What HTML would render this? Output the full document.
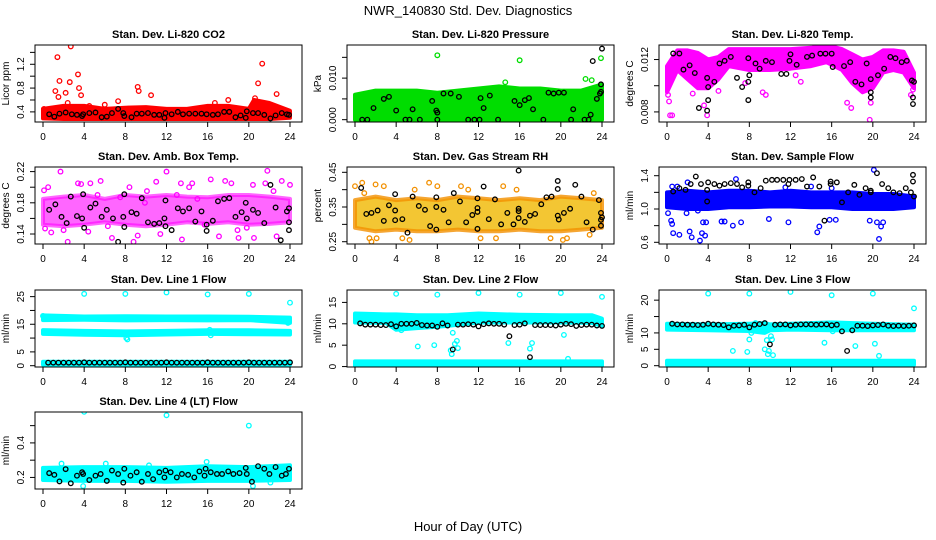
<!DOCTYPE html>
<html><head><meta charset="utf-8"><style>
html,body{margin:0;padding:0;background:#fff;}
svg{display:block;font-family:"Liberation Sans",sans-serif;}
</style></head><body>
<svg id="chart" width="936" height="540" viewBox="0 0 936 540">
<rect width="936" height="540" fill="#fff"/>
<text x="468" y="15" text-anchor="middle" font-size="13">NWR_140830  Std. Dev. Diagnostics</text>
<text x="468" y="531" text-anchor="middle" font-size="13">Hour of Day (UTC)</text>
</svg>
<script>
// ---------- data ----------
const xTicks=[0,4,8,12,16,20,24];
// P1 CO2
const p1BandH=[0,2,4,6,8,10,12,14,16,18,20,20.5,22,24];
const p1BandLo=[0.29,0.28,0.28,0.28,0.28,0.28,0.28,0.28,0.28,0.28,0.28,0.28,0.28,0.3];
const p1BandHi=[0.45,0.5,0.5,0.45,0.47,0.48,0.45,0.45,0.5,0.5,0.45,0.6,0.55,0.42];
const p1OutX=[1.2,1.4,1.6,1.5,2.2,2.4,2.6,2.7,3.4,3.5,3.7,7.3,9.2,9.3,10.5,20.9,21.3,20.6,22.7,6.0,16.7,18.0,0.1,4.5];
const p1OutY=[0.75,1.32,0.92,0.65,0.72,0.55,0.9,1.5,1.03,0.8,0.68,0.58,0.82,0.75,0.68,0.88,1.21,0.63,0.7,0.52,0.55,0.6,0.45,0.5];
const p1BlkX=[0.6,1.1,1.6,2.2,2.8,3.3,3.8,3.9,4.5,5.1,5.7,6.2,6.7,7.3,7.8,7.9,8.6,9.1,9.6,10.2,10.8,11.3,11.8,11.9,12.5,13.1,13.6,14.2,14.8,15.4,15.9,16.5,17.0,17.6,18.1,18.7,19.2,19.7,19.8,20.4,20.9,21.5,22.1,22.6,23.2,23.7,23.9];
const p1BlkY=[0.36,0.32,0.37,0.39,0.36,0.35,0.33,0.36,0.38,0.39,0.31,0.32,0.38,0.45,0.38,0.33,0.31,0.37,0.37,0.38,0.35,0.35,0.3,0.38,0.36,0.4,0.36,0.37,0.37,0.37,0.36,0.35,0.36,0.4,0.4,0.31,0.34,0.3,0.41,0.38,0.38,0.35,0.29,0.34,0.38,0.36,0.35];
// P2 pressure
const p2BandH=[0,2,4,6,8,10,12,14,16,18,20,22,24];
const p2BandLo=[0,0,0,0,0,0,0,0,0,0,0,0,0];
const p2BandHi=[0.006,0.007,0.007,0.007,0.0065,0.007,0.0075,0.008,0.0075,0.0075,0.007,0.007,0.0085];
const p2OutX=[8.0,16.0,23.9,22.4,23.0,14.6,0.1,19.5];
const p2OutY=[0.0155,0.0143,0.0148,0.0098,0.0095,0.009,0.0055,0.0005];
const p2BlkX=[0.7,1.2,3.3,1.8,2.8,4.9,5.3,4.0,5.6,6.3,7.5,8.0,7.9,8.0,8.6,9.3,10.1,11.0,11.6,12.1,13.1,12.2,12.5,13.9,15.5,16.0,16.5,16.9,17.3,18.3,18.8,19.3,19.8,20.3,21.0,21.2,22.3,22.7,22.9,23.1,23.5,23.8,23.9,23.9,24.0];
const p2BlkY=[0,0,0.0055,0.0028,0.005,0,0,0.0022,0.0025,0,0.0045,0.0017,0.0022,0,0.0063,0.0063,0.0055,0,0,0,0.0058,0.0052,0.0028,0,0.0045,0.0035,0.0047,0.0052,0.0025,0,0.0065,0.0063,0.0065,0.0065,0,0.0025,0,0,0.0012,0.0141,0.005,0.0063,0.0067,0.0085,0.0171];
// P3 Li-820 temp
const p3BandH=[0,1,2,3,4,5,6,8,10,12,14,15.5,17,18,19,20,21,22,23,24];
const p3BandLo=[0.0095,0.0112,0.0105,0.0098,0.0098,0.0105,0.0115,0.0112,0.0112,0.0113,0.0115,0.0118,0.0112,0.0102,0.0095,0.0098,0.011,0.0112,0.011,0.0098];
const p3BandHi=[0.0115,0.0127,0.0127,0.0125,0.012,0.0122,0.0128,0.0128,0.0128,0.0128,0.0129,0.0131,0.0128,0.0124,0.012,0.0122,0.0127,0.0127,0.0126,0.011];
const p3OutX=[0.3,0.5,0.2,0.1,3.9,3.6,9.3,9.6,7.6,13.0,17.5,17.9,19.7,19.8,23.7,23.9,12.5,2.5,5.0];
const p3OutY=[0.00774,0.00774,0.0088,0.0093,0.00774,0.0085,0.0095,0.0093,0.0102,0.0103,0.0087,0.0083,0.0074,0.0087,0.0093,0.0097,0.0108,0.0094,0.0096];
const p3BlkX=[0.6,1.2,1.6,2.2,2.7,3.1,3.9,3.9,4.0,4.0,4.6,5.1,5.6,6.2,6.8,7.3,7.9,7.9,8.0,7.9,8.6,9.0,9.6,10.2,11.1,11.6,11.9,12.0,12.6,13.6,14.1,14.9,15.4,16.0,16.1,17.2,17.8,18.3,18.9,19.4,19.8,19.8,19.8,20.5,21.1,21.7,22.2,22.8,23.3,23.8,23.9,23.9,24.0];
const p3BlkY=[0.01246,0.01246,0.01123,0.01156,0.01097,0.0083,0.0081,0.0106,0.0099,0.0089,0.0103,0.0117,0.0119,0.0122,0.0106,0.0099,0.0089,0.0103,0.0108,0.0121,0.0117,0.0113,0.0119,0.0118,0.0109,0.0109,0.0119,0.0124,0.0116,0.0122,0.0123,0.01245,0.01245,0.01245,0.01143,0.0115,0.0118,0.0103,0.0101,0.0117,0.0105,0.0095,0.0091,0.0108,0.0113,0.0122,0.0121,0.0118,0.0119,0.0104,0.0091,0.0086,0.0103];
// P4 amb box temp
const p4BandH=[0,2,4,6,8,10,12,14,16,18,20,22,24];
const p4BandLo=[0.152,0.15,0.152,0.155,0.152,0.15,0.152,0.155,0.153,0.155,0.152,0.153,0.155];
const p4BandHi=[0.185,0.188,0.19,0.185,0.19,0.188,0.19,0.188,0.187,0.19,0.19,0.188,0.185];
const p4OutX=[0.1,0.2,0.5,0.8,1.7,2.0,2.4,3.4,3.7,4.4,4.6,5.6,6.7,7.5,8.4,8.8,9.2,10.1,11.0,12.0,13.4,13.5,14.2,14.5,15.7,16.3,17.7,18.3,19.0,19.8,20.4,20.5,21.6,21.8,22.7,23.2,24.0,17.1,5.3,9.9,13.0,15.0,6.3,11.4,18.9,22.4];
const p4OutY=[0.196,0.147,0.2,0.142,0.22,0.145,0.13,0.205,0.204,0.143,0.205,0.208,0.135,0.187,0.2,0.13,0.138,0.195,0.207,0.22,0.205,0.133,0.2,0.205,0.152,0.21,0.208,0.205,0.135,0.148,0.203,0.135,0.205,0.221,0.137,0.208,0.203,0.137,0.19,0.18,0.19,0.185,0.15,0.14,0.145,0.195];
const p4BlkX=[0.6,1.2,1.8,2.3,2.7,3.3,3.8,3.9,4.0,4.6,5.1,5.7,6.2,6.8,7.3,7.8,7.9,7.9,8.6,9.1,9.6,10.2,10.8,11.3,11.8,11.9,11.9,12.5,13.1,13.6,14.2,14.8,15.4,15.9,15.9,16.5,17.0,17.6,18.1,18.7,19.3,19.7,19.8,20.4,20.9,21.5,22.1,22.6,23.1,23.7,23.9,23.9,23.9];
const p4BlkY=[0.171,0.178,0.162,0.154,0.188,0.163,0.16,0.191,0.148,0.174,0.179,0.162,0.171,0.16,0.13,0.162,0.191,0.149,0.168,0.166,0.186,0.155,0.153,0.154,0.16,0.15,0.183,0.145,0.173,0.169,0.173,0.156,0.169,0.152,0.144,0.157,0.182,0.185,0.186,0.162,0.168,0.18,0.16,0.171,0.167,0.154,0.203,0.174,0.132,0.169,0.173,0.145,0.155];
// P5 gas stream RH
const p5BandH=[0,2,4,6,8,10,12,14,16,18,20,22,24];
const p5BandLo=[0.29,0.28,0.285,0.28,0.28,0.285,0.28,0.28,0.285,0.28,0.28,0.285,0.29];
const p5BandHi=[0.37,0.38,0.37,0.375,0.37,0.38,0.375,0.37,0.375,0.37,0.38,0.375,0.37];
const p5OutX=[0,0.7,2.0,2.8,1.4,1.6,2.1,4.6,5.3,5.8,7.2,8.0,10.3,12.2,13.7,14.4,15.7,19.0,20.2,20.6,22.8,23.2,0.9,11.0];
const p5OutY=[0.41,0.42,0.415,0.41,0.26,0.25,0.26,0.26,0.255,0.4,0.42,0.41,0.41,0.26,0.26,0.41,0.4,0.26,0.255,0.26,0.27,0.39,0.39,0.4];
const p5BlkX=[0.6,1.1,1.6,2.2,2.8,3.3,3.9,3.9,3.9,4.6,5.1,5.6,6.2,6.8,7.3,7.9,7.9,7.9,8.6,9.1,9.6,10.2,10.8,11.4,11.9,11.9,11.9,11.9,12.5,13.0,13.6,14.2,14.8,15.4,15.9,15.9,15.9,15.9,16.5,17.0,17.5,18.1,18.6,19.1,19.7,19.7,19.7,19.8,20.3,20.9,21.4,22.0,22.5,23.1,23.7,23.9,23.9,23.9,24.0];
const p5BlkY=[0.405,0.33,0.333,0.34,0.31,0.355,0.387,0.34,0.312,0.315,0.276,0.38,0.353,0.342,0.295,0.378,0.35,0.285,0.342,0.306,0.39,0.366,0.306,0.327,0.375,0.336,0.347,0.287,0.409,0.315,0.372,0.3,0.333,0.3,0.318,0.345,0.338,0.455,0.307,0.325,0.33,0.358,0.378,0.38,0.425,0.402,0.325,0.314,0.333,0.345,0.414,0.38,0.306,0.285,0.37,0.333,0.313,0.296,0.32];
// P6 sample flow
const p6BandH=[0,2,4,6,8,10,12,14,16,18,20,22,24];
const p6BandLo=[1.02,1.0,1.0,1.02,1.02,1.03,1.03,1.02,1.02,1.0,1.0,1.0,1.02];
const p6BandHi=[1.2,1.22,1.2,1.22,1.22,1.2,1.22,1.2,1.2,1.2,1.18,1.18,1.15];
const p6OutX=[0.1,0.4,0.5,0.6,1.2,2.2,2.4,3.2,3.4,3.7,3.5,3.8,5.3,5.6,6.4,7.2,9.9,11.8,14.6,14.8,15.8,16.4,19.7,20.4,20.6,20.8,21.0,20.1,0.5,1.0,2.0,6.7,11.5,14.0,16.0,1.9,3.0];
const p6OutY=[0.95,0.86,0.82,0.71,0.69,0.73,0.66,0.62,0.71,0.68,0.84,0.84,0.85,0.85,0.8,0.84,0.88,0.84,0.72,0.79,0.87,0.87,0.86,0.84,0.64,0.79,0.84,1.47,1.27,1.27,1.32,1.36,1.26,1.27,1.25,0.95,0.98];
const p6BlkX=[0.6,1.2,1.8,2.3,2.8,3.3,3.9,3.9,4.0,4.6,5.1,5.6,6.2,6.8,7.3,7.9,7.9,8.5,9.1,9.6,10.2,10.7,11.3,11.8,11.9,12.5,13.1,13.6,14.2,14.8,15.3,15.9,15.9,16.5,17.0,17.6,18.2,18.7,19.3,19.8,19.8,20.4,20.9,21.5,22.0,22.6,23.2,23.7,23.9,23.9,24.0];
const p6BlkY=[1.21,1.25,1.23,1.3,1.39,1.3,1.23,1.09,1.32,1.3,1.28,1.3,1.31,1.3,1.26,1.28,1.32,1.2,1.25,1.34,1.35,1.35,1.35,1.3,1.35,1.35,1.36,1.27,1.38,1.27,0.86,1.3,1.33,1.32,1.08,1.2,1.29,1.17,1.25,1.2,1.22,1.43,1.3,1.25,1.2,1.19,1.25,1.2,1.33,1.41,1.15];
// shared half-hour positions for line-flow black markers
const flowBlkX=[0.5,1,1.5,2,2.5,3,3.5,4,4.5,5,5.5,6,6.5,7,7.5,8,8.5,9,9.5,10,10.5,11,11.5,12,12.5,13,13.5,14,14.5,15,15.5,16,16.5,17,17.5,18,18.5,19,19.5,20,20.5,21,21.5,22,22.5,23,23.5,24];
// P7 line 1
const p7BandH=[0,4,8,12,16,20,24];
const p7Band1Lo=[16.5,16.6,16.4,16.5,16.4,16.5,15.5];
const p7Band1Hi=[18.2,17.8,17.9,17.8,17.8,17.7,17.4];
const p7Band2Lo=[11.5,11.2,11.0,11.3,11.5,11.4,11.3];
const p7Band2Hi=[12.9,12.6,12.4,12.6,12.8,12.8,12.6];
const p7Band3Lo=[0.4,0.4,0.4,0.4,0.4,0.4,0.4];
const p7Band3Hi=[1.4,1.4,1.4,1.4,1.4,1.4,1.4];
const p7OutX=[4,8,12,16,20,24,8.2,8.1,16.3,16.2,23.8,0];
const p7OutY=[26,26,26.5,25.8,26,22.8,9.5,10,11,13,15.5,18];
const p7BlkY=[1.1,1.1,1.1,1.1,1.1,1.1,1.1,1.2,1.1,1.1,1.1,1.1,1.1,1.1,1.1,1.2,1.1,1.1,1.1,1.1,1.1,1.1,1.1,1.2,1.1,1.1,1.1,1.1,1.1,1.1,1.1,1.2,1.1,1.1,1.1,1.1,1.1,1.1,1.1,1.2,1.1,1.1,1.1,1.1,1.1,1.1,1.1,1.2];
// P8 line 2
const p8BandH=[0,3,4,6,8,9,12,16,20,23,24];
const p8Band1Lo=[10.3,10.2,8.6,9.0,9.3,9.5,10.3,10.3,10.3,10.2,9.5];
const p8Band1Hi=[12.4,12.2,12.2,12.0,12.0,12.0,12.4,12.1,12.0,12.0,11.2];
const p8Band2Lo=[0.2,0.2,0.2,0.2,0.2,0.2,0.2,0.2,0.2,0.2,0.2];
const p8Band2Hi=[1.2,1.2,1.2,1.2,1.2,1.2,1.2,1.2,1.2,1.2,1.2];
const p8OutX=[4,8,12,16,20,24,6.1,7.7,9.3,9.4,9.5,9.7,9.9,10.0,14.9,17.0,17.2,20.3,20.7,4.5];
const p8OutY=[17,16.8,17.2,16.8,17.2,16.3,4.7,5,3.8,2.9,7.9,5.3,6,4.3,5.5,4.2,5.5,7.4,1.8,8.5];
const p8BlkY=[10.1,9.8,9.8,9.8,9.7,9.7,9.9,9.4,10.0,10.0,10.0,10.2,9.7,9.6,9.6,9.3,10.1,9.6,4.0,9.8,9.8,9.9,9.8,9.4,9.9,10.1,10.0,10.0,9.8,7.1,9.7,9.8,10.1,2.2,9.7,9.7,9.7,9.7,9.6,9.8,10.0,9.9,9.5,9.7,9.8,9.8,9.6,9.5];
// P9 line 3
const p9BandH=[0,4,8,9.5,10,12,16,20,24];
const p9Band1Lo=[11.0,10.8,10.6,10.0,10.8,11.0,10.8,10.8,10.8];
const p9Band1Hi=[12.8,12.6,12.8,13.0,12.6,12.8,13.2,12.8,12.5];
const p9Band2Lo=[0.3,0.3,0.3,0.3,0.3,0.3,0.3,0.3,0.3];
const p9Band2Hi=[1.5,1.5,1.5,1.5,1.5,1.5,1.5,1.5,1.5];
const p9OutX=[4,8,12,16,20,24,6.4,7.8,8,8.2,8.6,9.5,9.8,9.9,10.1,10.3,15.3,16.1,18.3,20.2,20.6,10.2,9.7];
const p9OutY=[22,22,22.5,21.5,22,17.5,4.5,4.2,8,10,13,5,3.5,4.5,9,3.2,7,10.5,6,6.7,3,8,7.8];
const p9BlkY=[12.8,12.6,12.6,12.5,12.5,12.4,12.5,12.8,12.6,12.5,12.4,11.7,12.2,12.3,12.5,11.7,12.5,12.7,13.0,6.5,12.5,12.6,12.6,12.3,12.5,12.6,12.6,12.6,12.5,12.6,12.6,12.3,12.5,10.5,4.5,10.8,12.2,12.2,12.1,12.3,12.4,12.6,12.2,12.1,12.2,12.1,12.2,12.3];
// P10 line 4
const p10BandH=[0,4,8,12,16,20,24];
const p10BandLo=[0.185,0.18,0.18,0.175,0.18,0.18,0.185];
const p10BandHi=[0.255,0.26,0.26,0.255,0.265,0.26,0.27];
const p10OutX=[4,12,20,3.9,20.4,1.8,6.1,10.3,15.9,22.1];
const p10OutY=[0.58,0.56,0.5,0.15,0.15,0.28,0.28,0.27,0.29,0.17];
const p10BlkX=[0.6,1.1,1.6,2.2,2.7,3.3,3.8,3.9,4.5,5.1,5.6,6.2,6.7,7.3,7.8,7.9,8.5,9.1,9.6,10.2,10.7,11.3,11.8,11.9,12.4,13.0,13.5,14.1,14.7,15.2,15.7,15.8,16.3,16.9,17.4,18.0,18.5,19.1,19.7,19.8,20.3,20.9,21.5,22.0,22.6,23.2,23.6,23.9];
const p10BlkY=[0.225,0.215,0.177,0.248,0.166,0.21,0.23,0.22,0.185,0.21,0.22,0.18,0.24,0.22,0.17,0.25,0.21,0.23,0.175,0.22,0.19,0.23,0.2,0.24,0.23,0.2,0.22,0.215,0.2,0.235,0.21,0.25,0.23,0.22,0.22,0.235,0.22,0.225,0.255,0.22,0.175,0.265,0.25,0.22,0.26,0.21,0.22,0.25];

// ---------- layout ----------
const NS='http://www.w3.org/2000/svg';
const svg=document.getElementById('chart');
const colX=[0,312,624], rowTop=[45,167,290,412], boxH=77;
function el(tag,attrs,parent){const e=document.createElementNS(NS,tag);for(const k in attrs)e.setAttribute(k,attrs[k]);(parent||svg).appendChild(e);return e;}

const panels=[
 {title:'Stan. Dev. Li-820 CO2',c:0,r:0,ymin:0.23,ymax:1.524,ticks:[0.4,0.6,0.8,1.0,1.2,1.4],labels:['0.4','0.8','1.2'],ylab:'Licor ppm',color:'#ff0000',bands:[[p1BandH,p1BandLo,p1BandHi]],ox:p1OutX,oy:p1OutY,bx:p1BlkX,by:p1BlkY},
 {title:'Stan. Dev. Li-820 Pressure',c:1,r:0,ymin:-0.00056,ymax:0.01797,ticks:[0,0.005,0.01,0.015],labels:['0.000','0.010'],ylab:'kPa',color:'#00dd00',bands:[[p2BandH,p2BandLo,p2BandHi]],ox:p2OutX,oy:p2OutY,bx:p2BlkX,by:p2BlkY},
 {title:'Stan. Dev. Li-820 Temp.',c:2,r:0,ymin:0.00723,ymax:0.01311,ticks:[0.008,0.01,0.012],labels:['0.008','0.012'],ylab:'degrees C',color:'#ff00ff',bands:[[p3BandH,p3BandLo,p3BandHi]],ox:p3OutX,oy:p3OutY,bx:p3BlkX,by:p3BlkY},
 {title:'Stan. Dev. Amb. Box Temp.',c:0,r:1,ymin:0.1272,ymax:0.2259,ticks:[0.14,0.16,0.18,0.2,0.22],labels:['0.14','0.18','0.22'],ylab:'degrees C',color:'#ff00ff',bands:[[p4BandH,p4BandLo,p4BandHi]],ox:p4OutX,oy:p4OutY,bx:p4BlkX,by:p4BlkY,op:0.6},
 {title:'Stan. Dev. Gas Stream RH',c:1,r:1,ymin:0.2434,ymax:0.4653,ticks:[0.25,0.3,0.35,0.4,0.45],labels:['0.25','0.35','0.45'],ylab:'percent',color:'#f29000',bands:[[p5BandH,p5BandLo,p5BandHi]],ox:p5OutX,oy:p5OutY,bx:p5BlkX,by:p5BlkY,op:0.8,hatch:'#f0b800'},
 {title:'Stan. Dev. Sample Flow',c:2,r:1,ymin:0.5796,ymax:1.5045,ticks:[0.6,0.8,1.0,1.2,1.4],labels:['0.6','1.0','1.4'],ylab:'ml/min',color:'#0000ff',bands:[[p6BandH,p6BandLo,p6BandHi]],ox:p6OutX,oy:p6OutY,bx:p6BlkX,by:p6BlkY},
 {title:'Stan. Dev. Line 1 Flow',c:0,r:2,ymin:-0.47,ymax:27.4,ticks:[0,5,10,15,20,25],labels:['0','5','15','25'],ylab:'ml/min',color:'#00ffff',bands:[[p7BandH,p7Band1Lo,p7Band1Hi],[p7BandH,p7Band2Lo,p7Band2Hi],[p7BandH,p7Band3Lo,p7Band3Hi]],ox:p7OutX,oy:p7OutY,bx:flowBlkX,by:p7BlkY},
 {title:'Stan. Dev. Line 2 Flow',c:1,r:2,ymin:-0.1,ymax:17.9,ticks:[0,5,10,15],labels:['0','5','10','15'],ylab:'ml/min',color:'#00ffff',bands:[[p8BandH,p8Band1Lo,p8Band1Hi],[p8BandH,p8Band2Lo,p8Band2Hi]],ox:p8OutX,oy:p8OutY,bx:flowBlkX,by:p8BlkY},
 {title:'Stan. Dev. Line 3 Flow',c:2,r:2,ymin:-0.4,ymax:23.1,ticks:[0,5,10,15,20],labels:['0','5','10','20'],ylab:'ml/min',color:'#00ffff',bands:[[p9BandH,p9Band1Lo,p9Band1Hi],[p9BandH,p9Band2Lo,p9Band2Hi]],ox:p9OutX,oy:p9OutY,bx:flowBlkX,by:p9BlkY},
 {title:'Stan. Dev. Line 4 (LT) Flow',c:0,r:3,ymin:0.133,ymax:0.579,ticks:[0.2,0.3,0.4,0.5],labels:['0.2','0.4'],ylab:'ml/min',color:'#00ffff',bands:[[p10BandH,p10BandLo,p10BandHi]],ox:p10OutX,oy:p10OutY,bx:p10BlkX,by:p10BlkY}
];

panels.forEach(function(p,i){
  const L=colX[p.c]+35, R=colX[p.c]+302, T=rowTop[p.r], B=T+boxH;
  const xs=h=>colX[p.c]+43+h*(247/24);
  const ys=v=>B-(v-p.ymin)/(p.ymax-p.ymin)*(B-T);
  const g=el('g',{});
  
  
  const t=el('text',{x:(L+R)/2,y:T-7,'text-anchor':'middle','font-size':11,'font-weight':'bold'},g);
  t.textContent=p.title;
  
  
  const clip=el('clipPath',{id:'clip'+i},g);
  el('rect',{x:L,y:T,width:R-L,height:B-T},clip);
  const pg=el('g',{'clip-path':'url(#clip'+i+')'},g);
  p.bands.forEach(function(b){
    const pts=[];
    for(let k=0;k<b[0].length;k++)pts.push(xs(b[0][k]).toFixed(1)+','+ys(b[2][k]).toFixed(1));
    for(let k=b[0].length-1;k>=0;k--)pts.push(xs(b[0][k]).toFixed(1)+','+ys(b[1][k]).toFixed(1));
    const poly=el('polygon',{points:pts.join(' '),fill:p.hatch||p.color,stroke:p.color,'stroke-width':4,'stroke-linejoin':'round','fill-opacity':p.op||1,'stroke-opacity':p.op||1},pg);
    
    
  });
  for(let k=0;k<p.ox.length;k++){
    const c=el('circle',{cx:xs(p.ox[k]),cy:ys(p.oy[k]),r:2.3,fill:'none',stroke:p.color,'stroke-width':1.3},pg);
    
    
  }
  for(let k=0;k<p.bx.length;k++){
    const c=el('circle',{cx:xs(p.bx[k]),cy:ys(p.by[k]),r:2.3,fill:'none',stroke:'#000','stroke-width':1.3},pg);
    
    
  }
  const bx=el('rect',{x:L,y:T,width:R-L,height:B-T,fill:'none',stroke:'#000','stroke-width':1},g);
  
  
  xTicks.forEach(function(h){
    el('line',{x1:xs(h),x2:xs(h),y1:B,y2:B+5,stroke:'#000'},g);
    const tl=el('text',{x:xs(h),y:B+18,'text-anchor':'middle','font-size':10},g);
    tl.textContent=h;
    
    
  });
  p.ticks.forEach(function(v){
    if(ys(v)<T-0.5||ys(v)>B+0.5)return;
    el('line',{x1:L-5,x2:L,y1:ys(v),y2:ys(v),stroke:'#000'},g);
  });
  p.labels.forEach(function(s){
    const v=parseFloat(s), y=ys(v);
    const tl=el('text',{x:L-11,y:y,'text-anchor':'middle','font-size':10,transform:'rotate(-90 '+(L-11)+' '+y+')'},g);
    tl.textContent=s;
    
    
  });
  const yl=el('text',{x:L-26,y:(T+B)/2,'text-anchor':'middle','font-size':10,transform:'rotate(-90 '+(L-26)+' '+((T+B)/2)+')'},g);
  yl.textContent=p.ylab;
  
  
});
</script>
</body></html>
